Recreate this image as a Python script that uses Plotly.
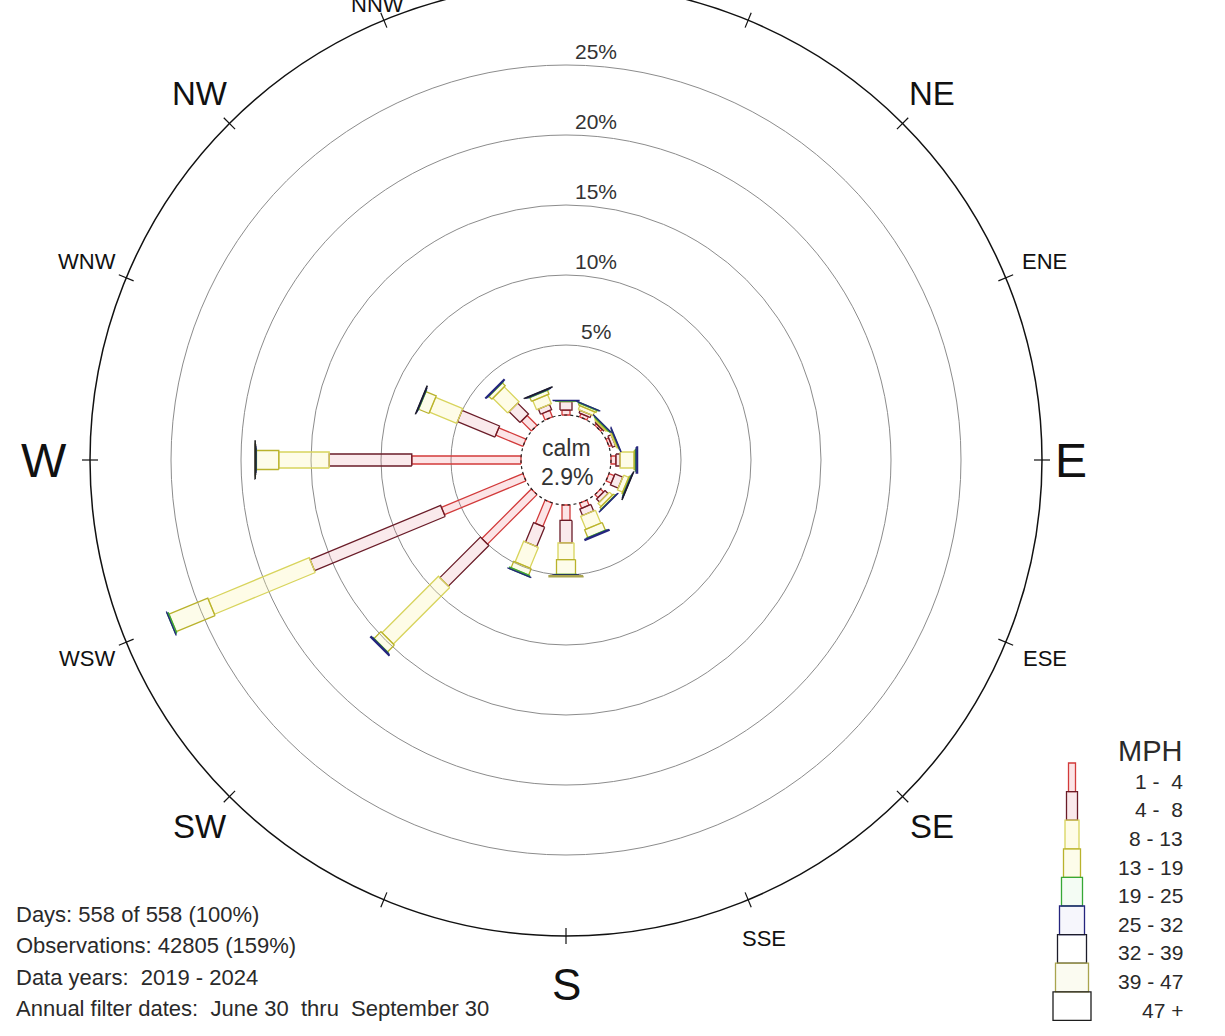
"""
Wind rose (WRPLOT style) rebuilt with Plotly.
"""

import math
import plotly.graph_objects as go

# ── Data ─────────────────────────────────────────────────────────────────────
DIRECTIONS = ["N", "NNE", "NE", "ENE", "E", "ESE", "SE", "SSE",
              "S", "SSW", "SW", "WSW", "W", "WNW", "NW", "NNW"]
BEARINGS = [i * 22.5 for i in range(16)]

SPEED_LABELS = ["1 -  4", "4 -  8", "8 - 13", "13 - 19", "19 - 25",
                "25 - 32", "32 - 39", "39 - 47", "47 +"]

# frequency (%) per direction, one list per speed band
FREQ_1_4   = [0.35, 0.25, 0.15, 0.20, 0.35, 0.40, 0.30, 0.40, 1.10, 1.80, 5.00, 6.30, 7.80, 2.10, 1.00, 0.50]
FREQ_4_8   = [0.60, 0.20, 0.10, 0.25, 0.30, 0.60, 0.30, 0.50, 1.60, 1.50, 4.10, 10.10, 5.90, 2.90, 1.10, 0.40]
FREQ_8_13  = [0.03, 0.30, 0.10, 0.10, 1.00, 0.40, 0.30, 1.00, 1.20, 1.60, 5.70, 7.80, 3.60, 2.10, 1.50, 0.70]
FREQ_13_19 = [0.02, 0.15, 0.05, 0.05, 0.10, 0.10, 0.15, 0.60, 1.05, 0.50, 0.70, 3.00, 1.60, 0.80, 0.30, 0.30]
FREQ_19_25 = [0.02, 0.05, 0.05, 0.02, 0.05, 0.03, 0.03, 0.03, 0.05, 0.10, 0.03, 0.10, 0.03, 0.03, 0.03, 0.03]
FREQ_25_32 = [0.03, 0.01, 0.01, 0.03, 0.10, 0.03, 0.02, 0.08, 0.03, 0.01, 0.08, 0.01, 0.02, 0.03, 0.06, 0.04]
FREQ_32_39 = [0.00, 0.00, 0.00, 0.00, 0.00, 0.02, 0.00, 0.00, 0.02, 0.00, 0.00, 0.00, 0.02, 0.02, 0.00, 0.02]
FREQ_39_47 = [0.00, 0.00, 0.00, 0.00, 0.00, 0.00, 0.00, 0.00, 0.08, 0.00, 0.00, 0.00, 0.01, 0.00, 0.00, 0.00]
FREQ_47_UP = [0.00, 0.00, 0.00, 0.00, 0.00, 0.00, 0.00, 0.00, 0.00, 0.00, 0.00, 0.00, 0.02, 0.00, 0.00, 0.00]

BANDS = [FREQ_1_4, FREQ_4_8, FREQ_8_13, FREQ_13_19, FREQ_19_25,
         FREQ_25_32, FREQ_32_39, FREQ_39_47, FREQ_47_UP]

CALM_PCT = 2.9
RING_PCTS = [5, 10, 15, 20, 25]

INFO_LINES = [
    "Days: 558 of 558 (100%)",
    "Observations: 42805 (159%)",
    "Data years:  2019 - 2024",
    "Annual filter dates:  June 30  thru  September 30",
]

# ── Style ────────────────────────────────────────────────────────────────────
W, H = 1225, 1036
CX, CY = 566, 460          # pixel centre of the rose
PX = 14.0                  # pixels per 1 %
CALM_R = 45 / PX           # calm circle radius (axis units)
OUTER_R = 476 / PX
FONT = "Liberation Sans, Arial, sans-serif"
TXT = "#2a2a2a"

BAND_WIDTH_PX = [8, 12, 16, 19, 22, 26, 30, 34, 38]
BAND_LINE = ["#d23a3a", "#6a1c28", "#d8d45c", "#b9b22c", "#36a836",
             "#25257e", "#1c1c2a", "#a9a44e", "#1e1e1e"]
BAND_FILL = ["rgba(240,120,130,0.20)", "rgba(225,140,150,0.18)",
             "rgba(250,245,170,0.28)", "rgba(245,240,160,0.22)",
             "rgba(200,240,200,0.20)", "rgba(210,210,240,0.20)",
             "rgba(255,255,255,0)", "rgba(240,240,200,0.25)",
             "rgba(255,255,255,0)"]

LABEL_SIZE = {"N": 48, "E": 48, "S": 44, "W": 48,
              "NE": 33, "SE": 33, "SW": 33, "NW": 33,
              "NNE": 22, "ENE": 22, "ESE": 22, "SSE": 22,
              "WSW": 22, "WNW": 22, "NNW": 22}
LABEL_R_PX = {"NNW": 493, "E": 505, "S": 524, "W": 522}


def unit(bearing):
    a = math.radians(bearing)
    return math.sin(a), math.cos(a)


fig = go.Figure()

# ── Bars: one outlined rectangle per direction/band ─────────────────────────
cum = [0.0] * 16
for b, freqs in enumerate(BANDS):
    half = BAND_WIDTH_PX[b] / PX / 2
    xs, ys = [], []
    for i, f in enumerate(freqs):
        if f <= 0:
            continue
        r0 = CALM_R + cum[i]
        r1 = r0 + f
        cum[i] += f
        ux, uy = unit(BEARINGS[i])
        nx, ny = uy, -ux
        for r, s in [(r0, -1), (r1, -1), (r1, 1), (r0, 1), (r0, -1)]:
            xs.append(ux * r + nx * half * s)
            ys.append(uy * r + ny * half * s)
        xs.append(None)
        ys.append(None)
    fig.add_trace(go.Scatter(
        x=xs, y=ys, mode="lines", fill="toself",
        fillcolor=BAND_FILL[b],
        line=dict(color=BAND_LINE[b], width=1.3),
        hoverinfo="skip", showlegend=False,
    ))

# ── Rings, outer circle, ticks ───────────────────────────────────────────────
shapes = []
for p in RING_PCTS:
    r = CALM_R + p
    shapes.append(dict(type="circle", xref="x", yref="y", layer="below",
                       x0=-r, y0=-r, x1=r, y1=r,
                       line=dict(color="#8c8c8c", width=1)))
shapes.append(dict(type="circle", xref="x", yref="y", layer="below",
                   x0=-OUTER_R, y0=-OUTER_R, x1=OUTER_R, y1=OUTER_R,
                   line=dict(color="#111111", width=1.5)))
shapes.append(dict(type="circle", xref="x", yref="y",
                   x0=-CALM_R, y0=-CALM_R, x1=CALM_R, y1=CALM_R,
                   line=dict(color="#222222", width=1.2, dash="dot")))
for bearing in BEARINGS:
    ux, uy = unit(bearing)
    r_in, r_out = OUTER_R - 8 / PX, OUTER_R + 8 / PX
    shapes.append(dict(type="line", xref="x", yref="y",
                       x0=ux * r_in, y0=uy * r_in, x1=ux * r_out, y1=uy * r_out,
                       line=dict(color="#111111", width=1.2)))

annotations = []

# ring labels
for p in RING_PCTS:
    annotations.append(dict(x=30 / PX, y=CALM_R + p + 14 / PX, xref="x", yref="y",
                            text=f"{p}%", showarrow=False,
                            font=dict(family=FONT, size=21, color="#333333")))

# calm
annotations.append(dict(x=0.05, y=12 / PX, xref="x", yref="y", text="calm",
                        showarrow=False, font=dict(family=FONT, size=23, color="#333333")))
annotations.append(dict(x=0.05, y=-17 / PX, xref="x", yref="y", text=f"{CALM_PCT}%",
                        showarrow=False, font=dict(family=FONT, size=23, color="#333333")))

# compass labels
for name, bearing in zip(DIRECTIONS, BEARINGS):
    if name not in LABEL_SIZE:
        continue
    r = LABEL_R_PX.get(name, 518) / PX
    ux, uy = unit(bearing)
    annotations.append(dict(x=ux * r, y=uy * r, xref="x", yref="y", text=name,
                            showarrow=False, xanchor="center", yanchor="middle",
                            font=dict(family=FONT, size=LABEL_SIZE[name], color="#111111")))

# info block, bottom left
for k, line in enumerate(INFO_LINES):
    annotations.append(dict(x=14 / W, y=1 - (914 + k * 31.5) / H, xref="paper", yref="paper",
                            text=line.replace("  ", " \u00a0"), showarrow=False,
                            xanchor="left", yanchor="middle",
                            font=dict(family=FONT, size=22, color=TXT)))

# ── Speed legend, bottom right ───────────────────────────────────────────────
LEG_X = 1072
LEG_TOP = 763
LEG_STEP = 28.6
annotations.append(dict(x=1150 / W, y=1 - 751 / H, xref="paper", yref="paper",
                        text="MPH", showarrow=False, xanchor="center", yanchor="middle",
                        font=dict(family=FONT, size=29, color=TXT)))
LEG_WIDTH_PX = [7, 11, 14, 17, 21, 25, 29, 33, 38]
for k, lab in enumerate(SPEED_LABELS):
    y0 = LEG_TOP + k * LEG_STEP
    y1 = y0 + LEG_STEP
    hw = LEG_WIDTH_PX[k] / 2
    shapes.append(dict(type="rect", xref="paper", yref="paper",
                       x0=(LEG_X - hw) / W, x1=(LEG_X + hw) / W,
                       y0=1 - y1 / H, y1=1 - y0 / H,
                       fillcolor=BAND_FILL[k],
                       line=dict(color=BAND_LINE[k], width=1.3)))
    annotations.append(dict(x=1185 / W, y=1 - (y0 + LEG_STEP / 2 + 4) / H,
                            xref="paper", yref="paper",
                            text=lab.replace("  ", " \u00a0"), showarrow=False,
                            xanchor="right", yanchor="middle",
                            font=dict(family=FONT, size=21, color=TXT)))

fig.update_layout(
    width=W, height=H,
    margin=dict(l=0, r=0, t=0, b=0),
    paper_bgcolor="white", plot_bgcolor="white",
    xaxis=dict(range=[-CX / PX, (W - CX) / PX], visible=False, fixedrange=True),
    yaxis=dict(range=[-(H - CY) / PX, CY / PX], visible=False, fixedrange=True),
    shapes=shapes,
    annotations=annotations,
    showlegend=False,
)

# page body has a default 8px margin; drop it so the figure sits at (0, 0)
fig.write_html("out.html", config={"displayModeBar": False},
               post_script="document.body.style.margin='0px';")
